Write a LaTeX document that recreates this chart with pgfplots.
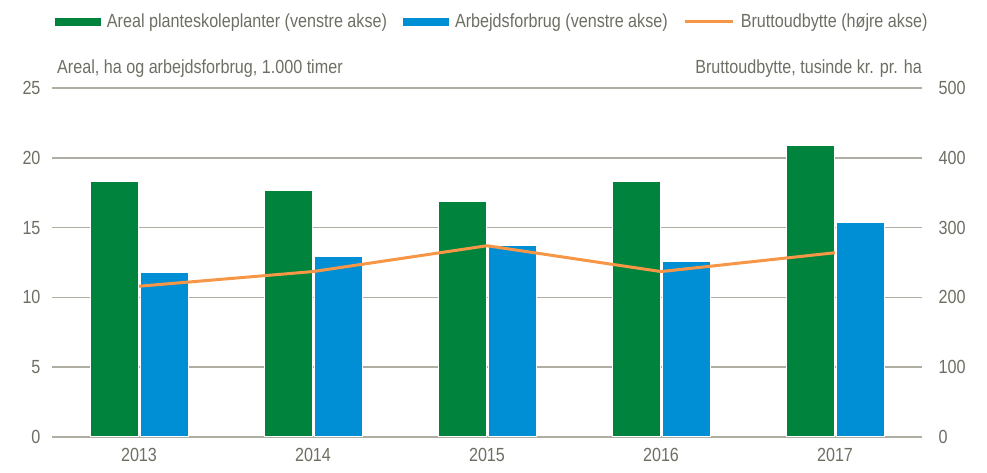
\documentclass[border=0pt]{standalone}
\usepackage{fontspec}
\setmainfont{Liberation Sans}[FakeStretch=0.85]
\usepackage{pgfplots}
\pgfplotsset{compat=1.18}
\definecolor{cgreen}{RGB}{0,132,61}
\definecolor{cblue}{RGB}{0,143,213}
\definecolor{corange}{RGB}{247,150,70}
\definecolor{cgrid}{RGB}{176,174,162}
\definecolor{ctxt}{RGB}{110,110,100}
\newcommand{\cf}{\fontsize{19}{22}\selectfont}

\begin{document}
\begin{tikzpicture}[x=1pt,y=1pt]
\useasboundingbox (0,0) rectangle (987,473);
\pgfplotsset{
  common/.style={
    at={(52pt,36pt)}, anchor=south west,
    scale only axis, width=870pt, height=349pt,
    xmin=-0.5, xmax=4.5,
    xtick={0,1,2,3,4},
    xticklabels={2013,2014,2015,2016,2017},
    major tick length=0pt,
    axis line style={draw=none},
    tick label style={font=\cf, text=ctxt},
    /pgf/number format/assume math mode=true,
    /pgf/number format/1000 sep={},
  },
}
\begin{axis}[common, clip=false,
  ymin=0, ymax=25, ytick={0,5,...,25},
  ymajorgrids, grid style={cgrid, line width=1.6pt},
  yticklabel style={/pgfplots/ticklabel shift=8pt},
  xticklabel style={/pgfplots/ticklabel shift=8pt},
  bar width=48pt,
  legend style={draw=none, fill=none, at={(0.506,1.19)}, anchor=center,
    legend columns=3, font=\cf, text=ctxt,
    /tikz/every odd column/.append style={column sep=4pt},
    /tikz/every even column/.append style={column sep=14pt}},
]
\addplot[ybar, bar shift=-25pt, fill=cgreen, draw=white, line width=1pt,
  legend image code/.code={\fill[cgreen] (0pt,-3.5pt) rectangle (45pt,3.5pt);}]
  coordinates {(0,18.3) (1,17.65) (2,16.85) (3,18.3) (4,20.9)};
\addlegendentry{Areal planteskoleplanter (venstre akse)}
\addplot[ybar, bar shift=25pt, fill=cblue, draw=white, line width=1pt,
  legend image code/.code={\fill[cblue] (0pt,-3.5pt) rectangle (45pt,3.5pt);}]
  coordinates {(0,11.75) (1,12.9) (2,13.75) (3,12.55) (4,15.4)};
\addlegendentry{Arbejdsforbrug (venstre akse)}
\addlegendimage{legend image code/.code={\draw[corange, line width=3pt] (0pt,0pt) -- (48pt,0pt);}}
\addlegendentry{Bruttoudbytte (højre akse)}
\node[anchor=base west, font=\cf, text=ctxt, inner sep=0pt]
  at ([xshift=5pt,yshift=14pt]rel axis cs:0,1) {Areal, ha og arbejdsforbrug, 1.000 timer};
\node[anchor=base east, font=\cf, text=ctxt, inner sep=0pt]
  at ([xshift=0pt,yshift=14pt]rel axis cs:1,1) {Bruttoudbytte, tusinde kr. pr. ha};
\end{axis}
\begin{axis}[common,
  ymin=0, ymax=500, ytick={0,100,...,500},
  axis y line*=right, axis x line=none,
  yticklabel style={/pgfplots/ticklabel shift=13pt},
]
\addplot[corange, line width=3pt, mark=none]
  coordinates {(0,216) (1,237) (2,274) (3,237) (4,264)};
\end{axis}
\end{tikzpicture}
\end{document}
